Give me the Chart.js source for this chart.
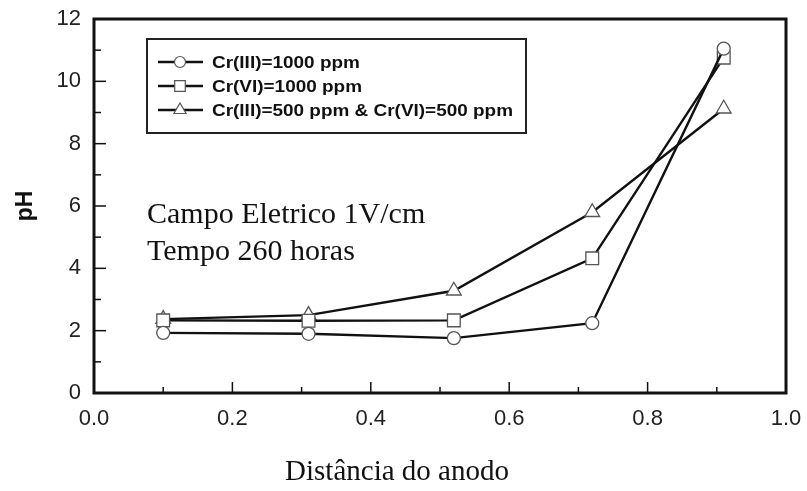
<!DOCTYPE html>
<html><head><meta charset="utf-8">
<script src="https://cdn.jsdelivr.net/npm/chart.js@4/dist/chart.umd.min.js"></script>
<style>html,body{margin:0;padding:0;background:#fff}</style>
</head><body>
<canvas id="c" width="807" height="491"></canvas>
<script>
// ---- data ----
const distances = [0.1, 0.31, 0.52, 0.72, 0.91];
const crIII1000 = [1.93, 1.9, 1.76, 2.24, 11.05];
const crVI1000 = [2.33, 2.32, 2.33, 4.32, 10.76];
const mixed500 = [2.37, 2.5, 3.28, 5.8, 9.12];
const seriesLabels = ['Cr(III)=1000 ppm', 'Cr(VI)=1000 ppm', 'Cr(III)=500 ppm & Cr(VI)=500 ppm'];
const xTickValues = [0, 0.2, 0.4, 0.6, 0.8, 1.0];
const yTickValues = [0, 2, 4, 6, 8, 10, 12];
const annotationLines = ['Campo Eletrico 1V/cm', 'Tempo 260 horas'];
const xTitle = 'Distância do anodo';
const yTitle = 'pH';

const pts = (ys) => distances.map((x, i) => ({x: x, y: ys[i]}));

function drawMarker(ctx, style, x, y, r) {
  ctx.beginPath();
  if (style === 'circle') {
    ctx.arc(x, y, r, 0, Math.PI * 2);
  } else if (style === 'rect') {
    const s = r * Math.SQRT1_2;
    ctx.rect(x - s, y - s, 2 * s, 2 * s);
  } else {
    let a = 0;
    ctx.moveTo(x + Math.sin(a) * r, y - Math.cos(a) * r);
    a += 2 * Math.PI / 3;
    ctx.lineTo(x + Math.sin(a) * r, y - Math.cos(a) * r);
    a += 2 * Math.PI / 3;
    ctx.lineTo(x + Math.sin(a) * r, y - Math.cos(a) * r);
    ctx.closePath();
  }
  ctx.fill();
  ctx.stroke();
}

const decorPlugin = {
  id: 'decor',
  beforeDatasetsDraw(chart) {
    const {ctx, chartArea: a, scales} = chart;
    ctx.save();
    // inward ticks
    ctx.strokeStyle = '#111';
    ctx.lineWidth = 1.5;
    for (let v = 1; v < 12; v++) {
      const py = scales.y.getPixelForValue(v);
      const len = (v % 2 === 0) ? 12 : 7;
      ctx.beginPath(); ctx.moveTo(a.left, py); ctx.lineTo(a.left + len, py); ctx.stroke();
    }
    for (let k = 1; k < 10; k++) {
      const px = scales.x.getPixelForValue(k / 10);
      const len = (k % 2 === 0) ? 11 : 6;
      ctx.beginPath(); ctx.moveTo(px, a.bottom); ctx.lineTo(px, a.bottom - len); ctx.stroke();
    }
    // frame
    ctx.lineWidth = 3;
    ctx.strokeStyle = '#111';
    ctx.strokeRect(a.left, a.top, a.right - a.left, a.bottom - a.top);
    // annotation text
    ctx.fillStyle = '#111';
    ctx.font = '30px "Liberation Serif", "Times New Roman", serif';
    ctx.textBaseline = 'alphabetic';
    ctx.textAlign = 'left';
    ctx.fillText(annotationLines[0], 147, 223);
    ctx.fillText(annotationLines[1], 147, 260);
    ctx.restore();
  },
  afterDatasetsDraw(chart) {
    const {ctx} = chart;
    const box = {l: 147, t: 39, r: 526, b: 133};
    ctx.save();
    ctx.fillStyle = '#fff';
    ctx.fillRect(box.l, box.t, box.r - box.l, box.b - box.t);
    ctx.lineWidth = 2;
    ctx.strokeStyle = '#222';
    ctx.strokeRect(box.l, box.t, box.r - box.l, box.b - box.t);
    ctx.font = 'bold 17px "Liberation Sans", Arial, sans-serif';
    let maxW = 0;
    chart.data.datasets.forEach(ds => { maxW = Math.max(maxW, ctx.measureText(ds.label).width); });
    const sx = 301 / maxW;
    const rows = [62, 86, 110];
    chart.data.datasets.forEach((ds, i) => {
      const y = rows[i];
      ctx.strokeStyle = '#111';
      ctx.lineWidth = 2.4;
      ctx.beginPath(); ctx.moveTo(158, y); ctx.lineTo(203, y); ctx.stroke();
      ctx.fillStyle = '#fff';
      ctx.strokeStyle = '#555';
      ctx.lineWidth = 1.2;
      const r = ds.pointStyle === 'circle' ? 5.5 : (ds.pointStyle === 'rect' ? 7.5 : 7);
      drawMarker(ctx, ds.pointStyle, 180, y, r);
      ctx.save();
      ctx.translate(212, y);
      ctx.scale(sx, 1);
      ctx.fillStyle = '#111';
      ctx.textBaseline = 'middle';
      ctx.textAlign = 'left';
      ctx.fillText(ds.label, 0, 1);
      ctx.restore();
    });
    ctx.restore();
  }
};

const common = {
  borderColor: '#111',
  borderWidth: 2.4,
  pointBackgroundColor: '#fff',
  pointBorderColor: '#555',
  pointBorderWidth: 1.3,
  tension: 0,
  fill: false
};

new Chart(document.getElementById('c'), {
  type: 'scatter',
  data: {
    datasets: [
      Object.assign({label: seriesLabels[0], data: pts(crIII1000), pointStyle: 'circle', pointRadius: 6.5, showLine: true}, common),
      Object.assign({label: seriesLabels[1], data: pts(crVI1000), pointStyle: 'rect', pointRadius: 9, showLine: true}, common),
      Object.assign({label: seriesLabels[2], data: pts(mixed500), pointStyle: 'triangle', pointRadius: 8.5, showLine: true}, common)
    ]
  },
  options: {
    responsive: false,
    animation: false,
    devicePixelRatio: 1,
    layout: {padding: {left: 8, right: 21, top: 19, bottom: 0}},
    plugins: {
      legend: {display: false},
      tooltip: {enabled: false},
      title: {
        display: true,
        position: 'bottom',
        text: xTitle,
        color: '#111',
        font: {family: '"Liberation Serif", "Times New Roman", serif', size: 29, weight: 'normal', lineHeight: 1.2},
        padding: {top: 0, bottom: 1.6}
      }
    },
    scales: {
      x: {
        type: 'linear',
        min: 0, max: 1,
        afterBuildTicks: (s) => { s.ticks = xTickValues.map(v => ({value: v})); },
        afterFit: (s) => { s.height = 61.6; s.paddingLeft = 0; s.paddingRight = 0; },
        grid: {display: false, drawTicks: false},
        border: {display: false},
        ticks: {
          padding: 13,
          color: '#222',
          font: {family: '"Liberation Sans", Arial, sans-serif', size: 22},
          callback: (v) => Number(v).toFixed(1),
          maxRotation: 0, autoSkip: false
        }
      },
      y: {
        type: 'linear',
        min: 0, max: 12,
        afterBuildTicks: (s) => { s.ticks = yTickValues.map(v => ({value: v})); },
        afterFit: (s) => { s.width = 86; s.paddingTop = 0; s.paddingBottom = 0; },
        grid: {display: false, drawTicks: false},
        border: {display: false},
        title: {
          display: true,
          text: yTitle,
          color: '#111',
          font: {family: '"Liberation Sans", Arial, sans-serif', size: 23, weight: 'bold', lineHeight: 1.2},
          padding: {top: 4, bottom: 0}
        },
        ticks: {
          padding: 13,
          color: '#222',
          font: {family: '"Liberation Sans", Arial, sans-serif', size: 22},
          callback: (v) => String(v)
        }
      }
    }
  },
  plugins: [decorPlugin]
});
</script>
</body></html>
